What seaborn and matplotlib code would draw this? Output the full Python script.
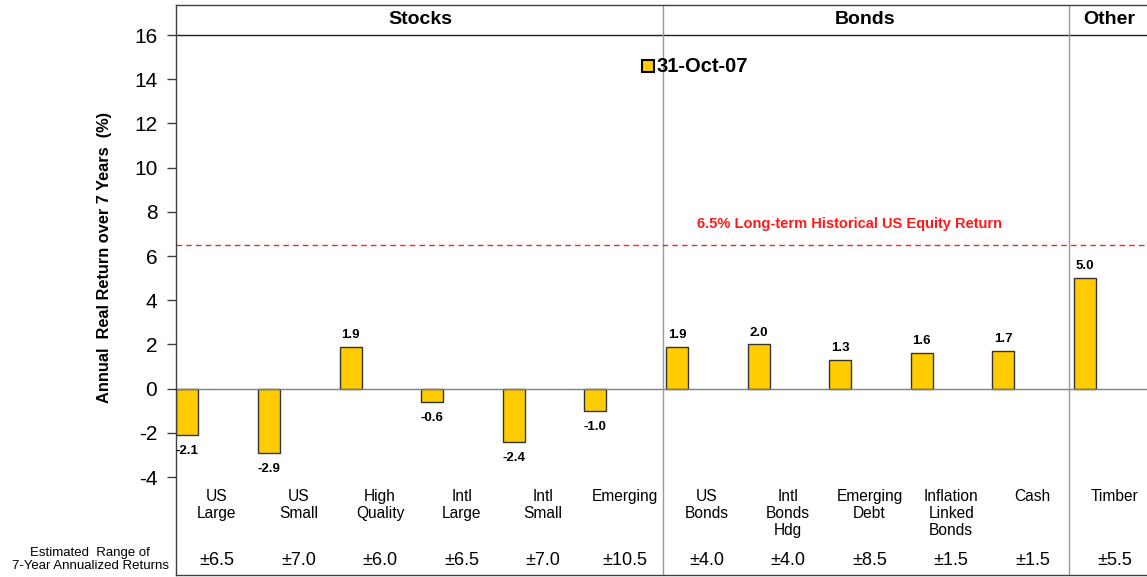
import matplotlib
matplotlib.use('Agg')
import matplotlib.pyplot as plt
import seaborn as sns
import pandas as pd

categories = ["US\nLarge", "US\nSmall", "High\nQuality", "Intl\nLarge", "Intl\nSmall", "Emerging",
              "US\nBonds", "Intl\nBonds\nHdg", "Emerging\nDebt", "Inflation\nLinked\nBonds", "Cash", "Timber"]
returns = [-2.1, -2.9, 1.9, -0.6, -2.4, -1.0, 1.9, 2.0, 1.3, 1.6, 1.7, 5.0]
ranges = ["±6.5", "±7.0", "±6.0", "±6.5", "±7.0", "±10.5", "±4.0", "±4.0", "±8.5", "±1.5", "±1.5", "±5.5"]
groups = ["Stocks", "Bonds", "Other"]
yticks = [-4, -2, 0, 2, 4, 6, 8, 10, 12, 14, 16]
hist_return = 6.5
hist_label = "6.5% Long-term Historical US Equity Return"
legend_label = "31-Oct-07"
range_title = "Estimated  Range of\n7-Year Annualized Returns"
ylabel = "Annual  Real Return over 7 Years  (%)"

BAR = '#FFCC00'

sns.set_theme(style='white')
plt.rcParams['font.family'] = ['Liberation Sans', 'DejaVu Sans']
plt.rcParams['text.color'] = 'black'
plt.rcParams['ytick.color'] = 'black'
plt.rcParams['ytick.labelcolor'] = 'black'

fig = plt.figure(figsize=(11.47, 5.77), dpi=100)
ax = fig.add_axes([176/1147, 2/577, 1-176/1147, 570/577])

df = pd.DataFrame({'cat': categories, 'ret': returns})
sns.barplot(data=df, x='cat', y='ret', color=BAR, saturation=1, width=0.27,
            edgecolor='#333333', linewidth=1, ax=ax)

ax.set_xlim(-0.14, 11.76)
ax.set_ylim(-8.43, 17.36)
ax.set_xticks([])
ax.set_xlabel('')
ax.set_ylabel('')
ax.set_yticks(yticks)
ax.set_yticklabels([str(t) for t in yticks])
ax.tick_params(axis='y', left=True, direction='out', length=6.5, width=1,
               labelsize=15, pad=7, color='#404040', labelcolor='black')

for s in ['left', 'top', 'bottom']:
    ax.spines[s].set_visible(True)
    ax.spines[s].set_color('#404040')
    ax.spines[s].set_linewidth(1)
ax.spines['right'].set_visible(False)

# header line and zero line
ax.axhline(16, color='#202020', lw=1)
ax.axhline(0, color='#808080', lw=1)
# group dividers
for xd in [5.83, 10.81]:
    ax.axvline(xd, color='#999999', lw=1)
# historical return line
ax.axhline(hist_return, color='#FF2222', lw=1, ls=(0, (4, 3)))
ax.text(8.11, 7.44, hist_label, color='#FF1A1A', fontsize=10.5, fontweight='bold',
        ha='center', va='center')

# group headers
for g, gx in zip(groups, [2.86, 8.31, 11.30]):
    ax.text(gx, 16.72, g, fontsize=14, fontweight='bold', ha='center', va='center')

# value labels
for i, v in enumerate(returns):
    off = 8.6 if v >= 0 else -11.5
    ax.annotate(f"{v:.1f}", (i, v), xytext=(0, off), textcoords='offset points',
                ha='center', va='center', fontsize=9.5, fontweight='bold')

# category labels & ranges
for i, (c, r) in enumerate(zip(categories, ranges)):
    ax.text(i + 0.36, -4.54, c, fontsize=11.2, ha='center', va='top', linespacing=1.18)
    ax.text(i + 0.36, -7.76, r, fontsize=13, ha='center', va='center')

ax.text(-1.19, -7.73, range_title, fontsize=9.5, ha='center', va='center',
        linespacing=1.15, clip_on=False)

# legend
ax.plot([5.64], [14.6], marker='s', markersize=8.5, mfc=BAR, mec='black', mew=1.5, ls='none')
ax.text(5.75, 14.6, legend_label, fontsize=14.5, fontweight='bold', ha='left', va='center')

fig.text(105/1147, 1-257/577, ylabel, rotation=90, fontsize=11.8, fontweight='bold',
         ha='center', va='center')

fig.savefig('out.png', dpi=100)
